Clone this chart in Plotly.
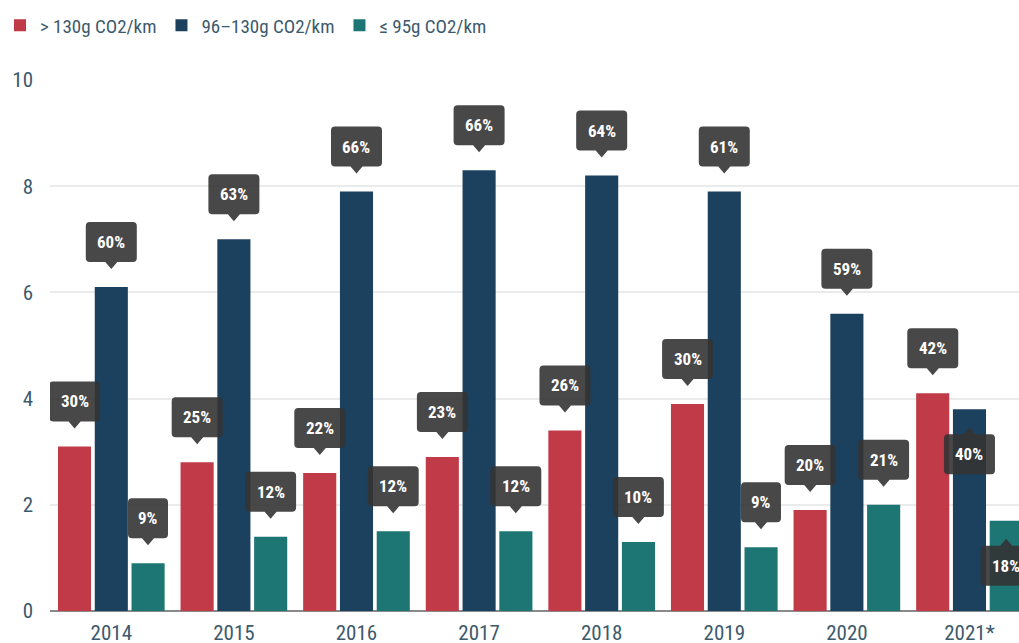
import plotly.graph_objects as go

years = ["2014", "2015", "2016", "2017", "2018", "2019", "2020", "2021*"]
series_names = ["> 130g CO2/km", "96–130g CO2/km", "≤ 95g CO2/km"]
high = [3.1, 2.8, 2.6, 2.9, 3.4, 3.9, 1.9, 4.1]
mid = [6.1, 7.0, 7.9, 8.3, 8.2, 7.9, 5.6, 3.8]
low = [0.9, 1.4, 1.5, 1.5, 1.3, 1.2, 2.0, 1.7]
high_pct = [30, 25, 22, 23, 26, 30, 20, 42]
mid_pct = [60, 63, 66, 66, 64, 61, 59, 40]
low_pct = [9, 12, 12, 12, 10, 9, 21, 18]
# labels drawn below the bar top (series index, year index)
below_labels = {(1, 7), (2, 7)}

colors = ["#c03a48", "#1c415f", "#1d7673"]
values = [high, mid, low]
pcts = [high_pct, mid_pct, low_pct]

FONT = "Roboto Condensed, Liberation Sans Narrow, DejaVu Sans Condensed, Roboto, sans-serif"
TXT = "#3d5a6c"
BOX = "rgba(52,52,52,0.9)"

fig = go.Figure()
for name, vals, col in zip(series_names, values, colors):
    fig.add_trace(go.Bar(x=years, y=vals, name=name, marker=dict(color=col, line=dict(width=0)),
                         hoverinfo="skip"))

slot = 36.7
offsets = [-slot, 0, slot]


def flag_path(dx, w, below):
    s = -1 if below else 1
    yb, yt, tip, r = 25 * s, 65 * s, 18 * s, 4 * s
    xl, xr = dx - w / 2, dx + w / 2
    return (f"M {xl+4},{yb} L {dx-6},{yb} L {dx},{tip} L {dx+6},{yb} L {xr-4},{yb} "
            f"Q {xr},{yb} {xr},{yb+r} L {xr},{yt-r} Q {xr},{yt} {xr-4},{yt} "
            f"L {xl+4},{yt} Q {xl},{yt} {xl},{yt-r} L {xl},{yb+r} Q {xl},{yb} {xl+4},{yb} Z")


shapes = []
annotations = []
for si in range(3):
    for i, yr in enumerate(years):
        v = values[si][i]
        txt = f"{pcts[si][i]}%"
        below = (si, i) in below_labels
        w = 40 if len(txt) <= 2 else 51
        dx = offsets[si]
        shapes.append(dict(type="path", xref="x", yref="y", xsizemode="pixel", ysizemode="pixel",
                           xanchor=i, yanchor=v, path=flag_path(dx, w, below),
                           fillcolor=BOX, line=dict(width=0), layer="above"))
        annotations.append(dict(x=i, y=v, xref="x", yref="y", xshift=dx, yshift=-45 if below else 45,
                                text=f"<b>{txt}</b>", showarrow=False, xanchor="center", yanchor="middle",
                                font=dict(family=FONT, size=17, color="white")))

fig.update_layout(
    width=1019, height=643,
    margin=dict(l=50, r=0, t=80, b=32, autoexpand=False),
    paper_bgcolor="white", plot_bgcolor="white",
    barmode="group", bargap=0.1, bargroupgap=0.1,
    font=dict(family=FONT, color=TXT),
    showlegend=True,
    legend=dict(orientation="h", xref="container", yref="container", x=-0.016, y=0.99,
                xanchor="left", yanchor="top", font=dict(size=19, color=TXT),
                itemclick=False, traceorder="normal"),
    shapes=shapes, annotations=annotations,
    xaxis=dict(type="category", range=[-0.5, 7.404], showgrid=False, ticks="",
               tickfont=dict(size=21, color=TXT), showline=False, zeroline=False,
               ticklabelstandoff=7),
    yaxis=dict(range=[0, 10], dtick=2, showgrid=True, gridcolor="#ebebeb", gridwidth=2,
               zeroline=True, zerolinecolor="#8a8a8a", zerolinewidth=2,
               tickfont=dict(size=21, color=TXT), ticklabelstandoff=16, showline=False),
)

fig.write_html("out.html", config={"displayModeBar": False},
               post_script="document.body.style.margin='0px';document.body.style.overflow='hidden';")
